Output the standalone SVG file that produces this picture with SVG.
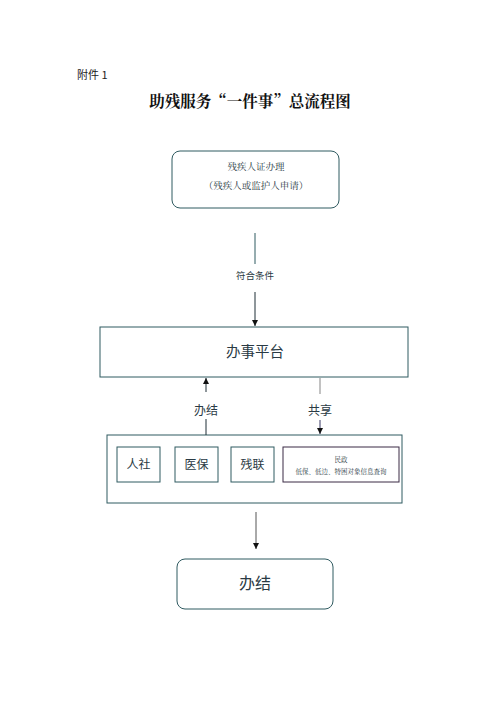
<svg xmlns="http://www.w3.org/2000/svg" width="500" height="707" viewBox="0 0 500 707">
<defs>
<style>
.t{font-family:"Noto Sans CJK SC","Liberation Sans",sans-serif;fill:#2a3a44;text-anchor:middle}
.s{font-family:"Noto Serif CJK SC","Noto Sans CJK SC",serif;fill:#2a3a44;text-anchor:middle}
.b{fill:#fff;stroke:#2f5a60;stroke-width:1}
.c{stroke:#1e2e36;stroke-width:1;fill:none}
</style>
<marker id="ah" markerWidth="8" markerHeight="8" refX="7" refY="4" orient="auto" markerUnits="userSpaceOnUse" viewBox="0 0 8 8">
<path d="M1,1 L7,4 L1,7 Z" fill="#111"/>
</marker>
</defs>
<rect width="500" height="707" fill="#fff"/>
<text x="77" y="79" font-family="'Noto Sans CJK SC','Liberation Sans',sans-serif" font-size="11" fill="#222">附件 1</text>
<text x="250" y="107" class="s" font-size="15.5" font-weight="bold" style="fill:#111">助残服务“一件事”总流程图</text>

<g id="apply">
<rect class="b" x="172" y="151" width="167" height="57" rx="8"/>
<text class="s" x="256" y="170" font-size="9.5">残疾人证办理</text>
<text class="s" x="256" y="189" font-size="9.5">（残疾人或监护人申请）</text>
</g>

<g id="platform">
<rect class="b" x="100" y="327" width="308" height="50"/>
<text class="t" x="255" y="357" font-size="14.5">办事平台</text>
</g>

<g id="depts">
<rect class="b" x="107" y="435" width="295" height="68"/>
<g id="rs"><rect class="b" x="117" y="447" width="43" height="35"/><text class="t" x="138.5" y="469" font-size="12">人社</text></g>
<g id="yb"><rect class="b" x="175" y="447" width="43" height="35"/><text class="t" x="196.5" y="469" font-size="12">医保</text></g>
<g id="cl"><rect class="b" x="231" y="447" width="43" height="35"/><text class="t" x="252.5" y="469" font-size="12">残联</text></g>
<g id="mz"><rect class="b" x="283" y="447" width="116" height="35" style="stroke:#3a2a44"/>
<text class="s" x="341" y="462" font-size="6.5">民政</text>
<text class="s" x="341" y="474" font-size="6.5">低保、低边、特困对象信息查询</text></g>
</g>

<g id="done">
<rect class="b" x="177" y="559" width="156" height="50" rx="8"/>
<text class="t" x="255" y="589" font-size="16">办结</text>
</g>

<g id="connectors">
<line x1="255" y1="233" x2="255" y2="264" stroke="#2f5a60" stroke-width="1"/>
<text class="t" x="255" y="279" font-size="9.5">符合条件</text>
<line class="c" x1="255" y1="292" x2="255" y2="326" marker-end="url(#ah)"/>
<line class="c" x1="206" y1="435" x2="206" y2="419"/>
<line class="c" x1="206" y1="392" x2="206" y2="378" marker-end="url(#ah)"/>
<text class="t" x="206" y="415" font-size="12">办结</text>
<line x1="320" y1="378" x2="320" y2="394" stroke="#999" stroke-width="1.2"/>
<text class="t" x="320" y="415" font-size="12">共享</text>
<line x1="320" y1="420" x2="320" y2="434" stroke="#3a3a66" stroke-width="1" marker-end="url(#ah)"/>
<line x1="256" y1="512" x2="256" y2="549" stroke="#555" stroke-width="1" marker-end="url(#ah)"/>
</g>
</svg>
